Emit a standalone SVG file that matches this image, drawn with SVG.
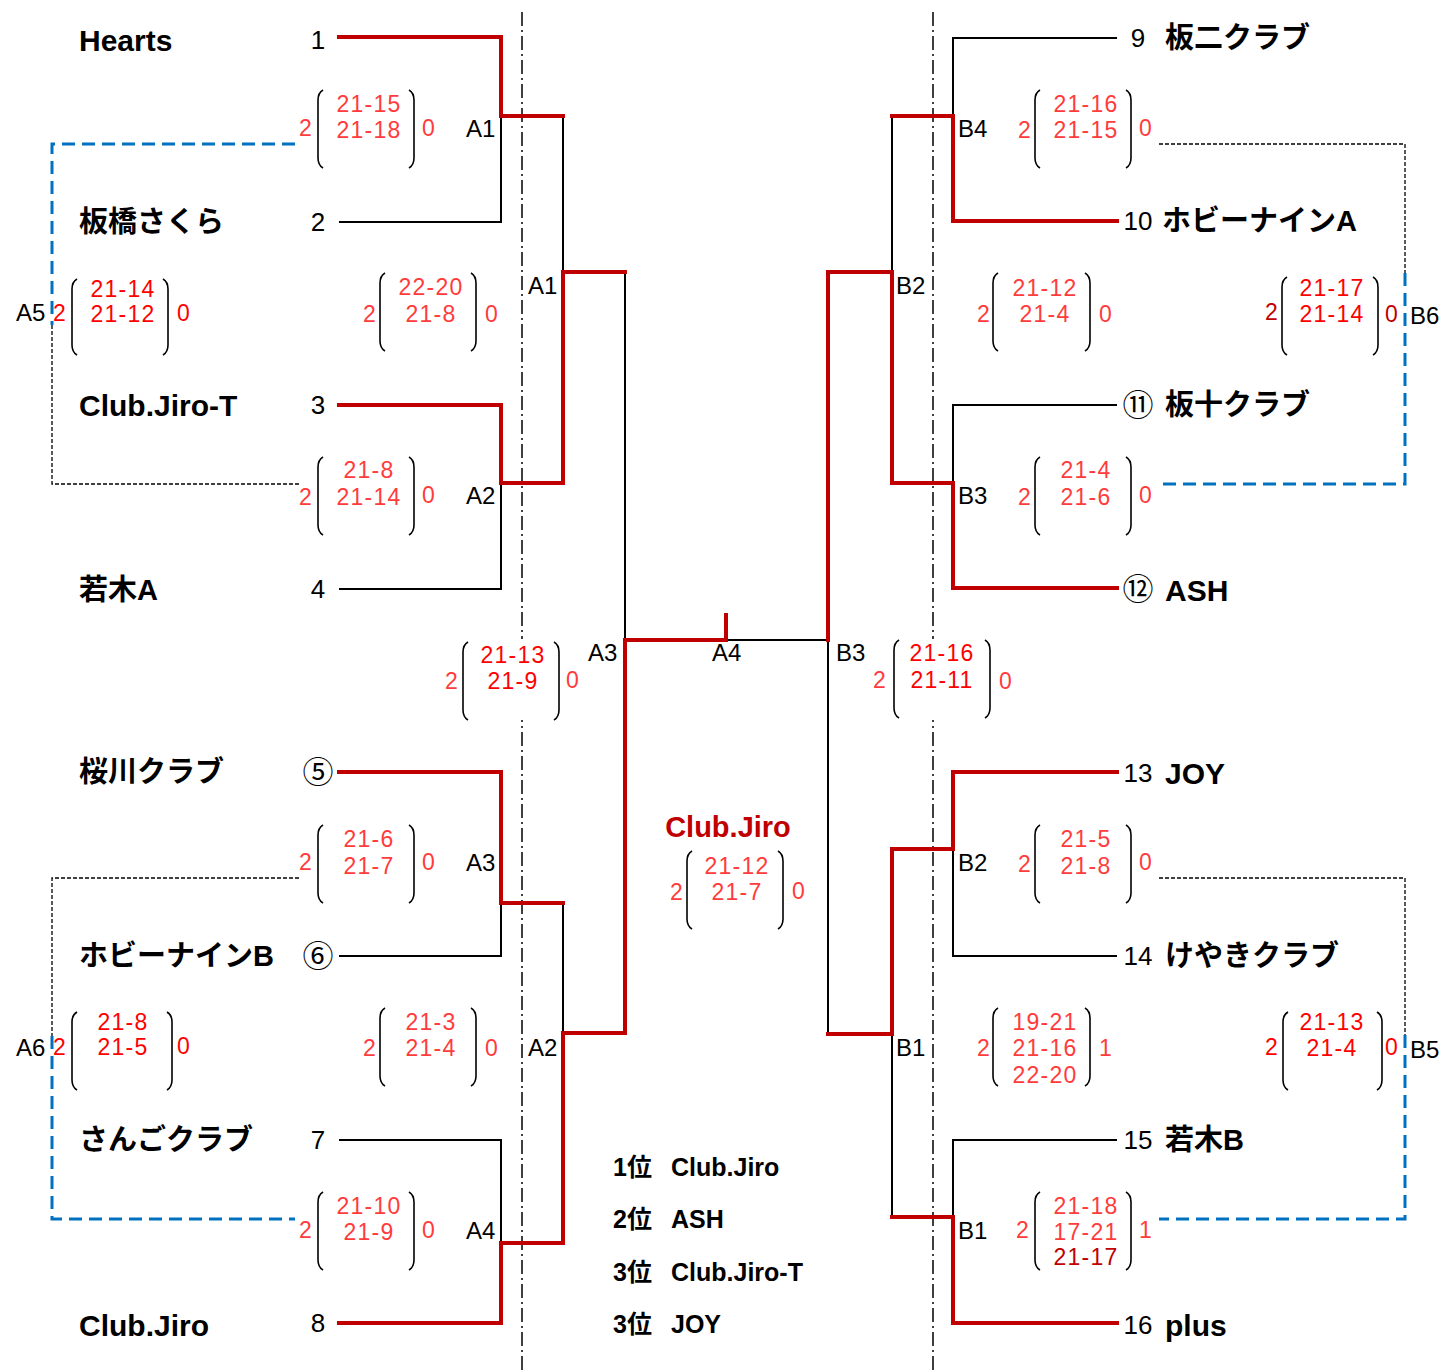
<svg xmlns="http://www.w3.org/2000/svg" width="1444" height="1370" viewBox="0 0 1444 1370">
<style>
text{font-family:"Liberation Sans","Noto Sans CJK JP",sans-serif;dominant-baseline:central}
.nm{font-size:29px;font-weight:bold;fill:#000}
.nl{font-size:30px;font-weight:bold;fill:#000}
.no{font-size:26px;fill:#000;text-anchor:middle}
.ci{font-size:31px}
.lb{font-size:24px;fill:#000}
.sc{font-size:23px;letter-spacing:1.2px;fill:#FF3B3B;text-anchor:middle}
.dk{fill:#C00000}
.rk{font-size:25px;font-weight:bold;fill:#000}
.br{fill:none;stroke:#000;stroke-width:1.6}
.bk{fill:none;stroke:#000;stroke-width:2}
.rd{fill:none;stroke:#C00000;stroke-width:4;stroke-linejoin:miter;stroke-linecap:square}
.bl{fill:none;stroke:#0070C0;stroke-width:3;stroke-dasharray:13 7}
.dt{fill:none;stroke:#000;stroke-width:1.3;stroke-dasharray:4 2}
.dd{fill:none;stroke:#000;stroke-width:1.5;stroke-dasharray:14 4 2 4}
</style>

<g id="guides">
<path class="dd" d="M522,12 V1370"/>
<path class="dd" d="M933,12 V1370"/>
<rect x="510" y="639" width="24" height="81" fill="#fff"/>
<rect x="921" y="639" width="24" height="81" fill="#fff"/>
</g>

<g id="connectors">
<path class="bk" d="M339,222 H501 V116"/>
<path class="bk" d="M339,589 H501 V483"/>
<path class="bk" d="M563,116 V272"/>
<path class="bk" d="M625,272 V640"/>
<path class="bk" d="M339,956 H501 V903"/>
<path class="bk" d="M339,1140 H501 V1243"/>
<path class="bk" d="M563,903 V1033"/>
<path class="bk" d="M726,640 H828"/>
<path class="bk" d="M1117,38 H953 V116"/>
<path class="bk" d="M1117,405 H953 V483"/>
<path class="bk" d="M892,116 V272"/>
<path class="bk" d="M1117,956 H953 V849"/>
<path class="bk" d="M1117,1140 H953 V1217"/>
<path class="bk" d="M892,1034 V1217"/>
<path class="bk" d="M828,640 V1034"/>
<path class="rd" d="M339,37 H501 V116 H563"/>
<path class="rd" d="M339,405 H501 V483 H563 V272 H625"/>
<path class="rd" d="M339,772 H501 V903 H563"/>
<path class="rd" d="M339,1323 H501 V1243 H563 V1033 H625 V640 H726 V615"/>
<path class="rd" d="M1117,221 H953 V116 H892"/>
<path class="rd" d="M1117,588 H953 V483 H892 V272 H828 V640"/>
<path class="rd" d="M1117,772 H953 V849 H892 V1034 H828"/>
<path class="rd" d="M1117,1323 H953 V1217 H892"/>
<path class="bl" d="M295,144 H52 V325"/>
<path class="dt" d="M52,325 V484 H299"/>
<path class="dt" d="M299,878 H52 V1036"/>
<path class="bl" d="M52,1036 V1219 H295"/>
<path class="dt" d="M1159,144 H1405 V273"/>
<path class="bl" d="M1405,273 V484 H1159"/>
<path class="dt" d="M1159,878 H1405 V1035"/>
<path class="bl" d="M1405,1035 V1219 H1159"/>
</g>

<g id="teams-left">
<g id="t1"><text class="nl" x="79" y="40">Hearts</text><text class="no" x="318" y="40">1</text></g>
<g id="t2"><text class="nm" x="79" y="222">板橋さくら</text><text class="no" x="318" y="222">2</text></g>
<g id="t3"><text class="nl" x="79" y="405">Club.Jiro-T</text><text class="no" x="318" y="405">3</text></g>
<g id="t4"><text class="nm" x="79" y="590">若木A</text><text class="no" x="318" y="589">4</text></g>
<g id="t5"><text class="nm" x="79" y="772">桜川クラブ</text><text class="no ci" x="318" y="772">⑤</text></g>
<g id="t6"><text class="nm" x="79" y="956">ホビーナインB</text><text class="no ci" x="318" y="956">⑥</text></g>
<g id="t7"><text class="nm" x="79" y="1140">さんごクラブ</text><text class="no" x="318" y="1140">7</text></g>
<g id="t8"><text class="nl" x="79" y="1325">Club.Jiro</text><text class="no" x="318" y="1323">8</text></g>
</g>

<g id="teams-right">
<g id="t9"><text class="no" x="1138" y="38">9</text><text class="nm" x="1165" y="38">板二クラブ</text></g>
<g id="t10"><text class="no" x="1138" y="221">10</text><text class="nm" x="1162" y="221">ホビーナインA</text></g>
<g id="t11"><text class="no ci" x="1138" y="405">⑪</text><text class="nm" x="1165" y="405">板十クラブ</text></g>
<g id="t12"><text class="no ci" x="1138" y="589">⑫</text><text class="nl" x="1165" y="590">ASH</text></g>
<g id="t13"><text class="no" x="1138" y="773">13</text><text class="nl" x="1165" y="773">JOY</text></g>
<g id="t14"><text class="no" x="1138" y="956">14</text><text class="nm" x="1165" y="956">けやきクラブ</text></g>
<g id="t15"><text class="no" x="1138" y="1140">15</text><text class="nm" x="1165" y="1140">若木B</text></g>
<g id="t16"><text class="no" x="1138" y="1325">16</text><text class="nl" x="1165" y="1325">plus</text></g>
</g>

<g id="match-labels">
<text class="lb" x="466" y="128">A1</text>
<text class="lb" x="466" y="495">A2</text>
<text class="lb" x="466" y="862">A3</text>
<text class="lb" x="466" y="1230">A4</text>
<text class="lb" x="528" y="285">A1</text>
<text class="lb" x="528" y="1047">A2</text>
<text class="lb" x="588" y="652">A3</text>
<text class="lb" x="712" y="652">A4</text>
<text class="lb" x="836" y="652">B3</text>
<text class="lb" x="958" y="128">B4</text>
<text class="lb" x="958" y="495">B3</text>
<text class="lb" x="958" y="862">B2</text>
<text class="lb" x="958" y="1230">B1</text>
<text class="lb" x="896" y="285">B2</text>
<text class="lb" x="896" y="1047">B1</text>
<text class="lb" x="16" y="312">A5</text>
<text class="lb" x="16" y="1047">A6</text>
<text class="lb" x="1410" y="315">B6</text>
<text class="lb" x="1410" y="1049">B5</text>
</g>

<g id="score-A1">
<path class="br" d="M323,90 Q318,93 318,100 V158 Q318,165 323,168 M409,90 Q414,93 414,100 V158 Q414,165 409,168"/>
<text class="sc" x="306" y="128">2</text><text class="sc" x="369" y="104">21-15</text><text class="sc" x="369" y="130">21-18</text><text class="sc" x="429" y="128">0</text>
</g>
<g id="score-A2">
<path class="br" d="M323,457 Q318,460 318,467 V525 Q318,532 323,535 M409,457 Q414,460 414,467 V525 Q414,532 409,535"/>
<text class="sc" x="306" y="497">2</text><text class="sc" x="369" y="470">21-8</text><text class="sc" x="369" y="497">21-14</text><text class="sc" x="429" y="495">0</text>
</g>
<g id="score-A3">
<path class="br" d="M323,825 Q318,828 318,835 V893 Q318,900 323,903 M409,825 Q414,828 414,835 V893 Q414,900 409,903"/>
<text class="sc" x="306" y="862">2</text><text class="sc" x="369" y="839">21-6</text><text class="sc" x="369" y="866">21-7</text><text class="sc" x="429" y="862">0</text>
</g>
<g id="score-A4">
<path class="br" d="M323,1192 Q318,1195 318,1202 V1260 Q318,1267 323,1270 M409,1192 Q414,1195 414,1202 V1260 Q414,1267 409,1270"/>
<text class="sc" x="306" y="1230">2</text><text class="sc" x="369" y="1206">21-10</text><text class="sc" x="369" y="1232">21-9</text><text class="sc" x="429" y="1230">0</text>
</g>
<g id="score-A1-r2">
<path class="br" d="M385,273 Q380,276 380,283 V341 Q380,348 385,351 M471,273 Q476,276 476,283 V341 Q476,348 471,351"/>
<text class="sc" x="370" y="314">2</text><text class="sc" x="431" y="287">22-20</text><text class="sc" x="431" y="314">21-8</text><text class="sc" x="492" y="314">0</text>
</g>
<g id="score-A2-r2">
<path class="br" d="M385,1008 Q380,1011 380,1018 V1076 Q380,1083 385,1086 M471,1008 Q476,1011 476,1018 V1076 Q476,1083 471,1086"/>
<text class="sc" x="370" y="1048">2</text><text class="sc" x="431" y="1022">21-3</text><text class="sc" x="431" y="1048">21-4</text><text class="sc" x="492" y="1048">0</text>
</g>
<g id="score-A5">
<path class="br" d="M77,279 Q72,282 72,289 V345 Q72,352 77,355 M163,279 Q168,282 168,289 V345 Q168,352 163,355"/>
<text class="sc" x="60" y="313" style="fill:#FF0000">2</text><text class="sc" x="123" y="289" style="fill:#FF0000">21-14</text><text class="sc" x="123" y="314" style="fill:#FF0000">21-12</text><text class="sc" x="184" y="313" style="fill:#FF0000">0</text>
</g>
<g id="score-A6">
<path class="br" d="M77,1012 Q72,1015 72,1022 V1080 Q72,1087 77,1090 M167,1012 Q172,1015 172,1022 V1080 Q172,1087 167,1090"/>
<text class="sc" x="60" y="1047" style="fill:#FF0000">2</text><text class="sc" x="123" y="1022" style="fill:#FF0000">21-8</text><text class="sc" x="123" y="1047" style="fill:#FF0000">21-5</text><text class="sc" x="184" y="1046" style="fill:#FF0000">0</text>
</g>
<g id="score-A3-semi">
<path class="br" d="M468,642 Q463,645 463,652 V710 Q463,717 468,720 M554,642 Q559,645 559,652 V710 Q559,717 554,720"/>
<text class="sc" x="452" y="681">2</text><text class="sc" x="513" y="655" style="fill:#FF0000">21-13</text><text class="sc" x="513" y="681" style="fill:#FF0000">21-9</text><text class="sc" x="573" y="680">0</text>
</g>
<g id="final">
<text x="728" y="827" style="font-size:29px;font-weight:bold;fill:#C00000;text-anchor:middle">Club.Jiro</text>
<path class="br" d="M692,851 Q687,854 687,861 V919 Q687,926 692,929 M778,851 Q783,854 783,861 V919 Q783,926 778,929"/>
<text class="sc" x="677" y="892">2</text><text class="sc" x="737" y="866">21-12</text><text class="sc" x="737" y="892">21-7</text><text class="sc" x="799" y="891">0</text>
</g>
<g id="score-B3-semi">
<path class="br" d="M899,640 Q894,643 894,650 V708 Q894,715 899,718 M985,640 Q990,643 990,650 V708 Q990,715 985,718"/>
<text class="sc" x="880" y="680">2</text><text class="sc" x="942" y="653" style="fill:#FF0000">21-16</text><text class="sc" x="942" y="680" style="fill:#FF0000">21-11</text><text class="sc" x="1006" y="681">0</text>
</g>
<g id="score-B4">
<path class="br" d="M1040,90 Q1035,93 1035,100 V158 Q1035,165 1040,168 M1126,90 Q1131,93 1131,100 V158 Q1131,165 1126,168"/>
<text class="sc" x="1025" y="130">2</text><text class="sc" x="1086" y="104">21-16</text><text class="sc" x="1086" y="130">21-15</text><text class="sc" x="1146" y="128">0</text>
</g>
<g id="score-B3">
<path class="br" d="M1040,457 Q1035,460 1035,467 V525 Q1035,532 1040,535 M1126,457 Q1131,460 1131,467 V525 Q1131,532 1126,535"/>
<text class="sc" x="1025" y="497">2</text><text class="sc" x="1086" y="470">21-4</text><text class="sc" x="1086" y="497">21-6</text><text class="sc" x="1146" y="495">0</text>
</g>
<g id="score-B2">
<path class="br" d="M1040,825 Q1035,828 1035,835 V893 Q1035,900 1040,903 M1126,825 Q1131,828 1131,835 V893 Q1131,900 1126,903"/>
<text class="sc" x="1025" y="864">2</text><text class="sc" x="1086" y="839">21-5</text><text class="sc" x="1086" y="866">21-8</text><text class="sc" x="1146" y="862">0</text>
</g>
<g id="score-B1">
<path class="br" d="M1040,1192 Q1035,1195 1035,1202 V1260 Q1035,1267 1040,1270 M1126,1192 Q1131,1195 1131,1202 V1260 Q1131,1267 1126,1270"/>
<text class="sc" x="1023" y="1230">2</text><text class="sc" x="1086" y="1206">21-18</text><text class="sc" x="1086" y="1232">17-21</text><text class="sc dk" x="1086" y="1257">21-17</text><text class="sc" x="1146" y="1230">1</text>
</g>
<g id="score-B2-r2">
<path class="br" d="M998,273 Q993,276 993,283 V341 Q993,348 998,351 M1085,273 Q1090,276 1090,283 V341 Q1090,348 1085,351"/>
<text class="sc" x="984" y="314">2</text><text class="sc" x="1045" y="288">21-12</text><text class="sc" x="1045" y="314">21-4</text><text class="sc" x="1106" y="314">0</text>
</g>
<g id="score-B1-r2">
<path class="br" d="M998,1008 Q993,1011 993,1018 V1076 Q993,1083 998,1086 M1085,1008 Q1090,1011 1090,1018 V1076 Q1090,1083 1085,1086"/>
<text class="sc" x="984" y="1048">2</text><text class="sc" x="1045" y="1022">19-21</text><text class="sc" x="1045" y="1048">21-16</text><text class="sc" x="1045" y="1075">22-20</text><text class="sc" x="1106" y="1048">1</text>
</g>
<g id="score-B6">
<path class="br" d="M1287,277 Q1282,280 1282,287 V345 Q1282,352 1287,355 M1373,277 Q1378,280 1378,287 V345 Q1378,352 1373,355"/>
<text class="sc dk" x="1272" y="312">2</text><text class="sc" x="1332" y="288" style="fill:#FF0000">21-17</text><text class="sc" x="1332" y="314" style="fill:#FF0000">21-14</text><text class="sc dk" x="1392" y="314">0</text>
</g>
<g id="score-B5">
<path class="br" d="M1288,1012 Q1283,1015 1283,1022 V1080 Q1283,1087 1288,1090 M1377,1012 Q1382,1015 1382,1022 V1080 Q1382,1087 1377,1090"/>
<text class="sc" x="1272" y="1047" style="fill:#FF0000">2</text><text class="sc" x="1332" y="1022" style="fill:#FF0000">21-13</text><text class="sc" x="1332" y="1048" style="fill:#FF0000">21-4</text><text class="sc" x="1392" y="1047" style="fill:#FF0000">0</text>
</g>

<g id="ranking">
<text class="rk" x="613" y="1167">1位</text><text class="rk" x="671" y="1167">Club.Jiro</text>
<text class="rk" x="613" y="1219">2位</text><text class="rk" x="671" y="1219">ASH</text>
<text class="rk" x="613" y="1272">3位</text><text class="rk" x="671" y="1272">Club.Jiro-T</text>
<text class="rk" x="613" y="1324">3位</text><text class="rk" x="671" y="1324">JOY</text>
</g>
</svg>
